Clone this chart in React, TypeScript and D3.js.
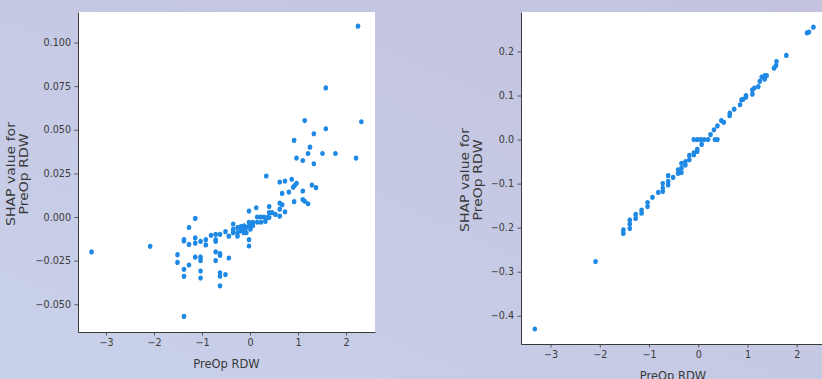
import React, { useEffect, useRef } from 'react';
import * as d3 from 'd3';

// Left panel: SHAP dependence (tree model)
const leftX = [
  -3.30, -2.08, -1.51, -1.51, -1.375, -1.375, -1.375, -1.375, -1.375, -1.27, -1.27, -1.27,
  -1.14, -1.14, -1.14, -1.14, -1.03, -1.03, -1.03, -1.03, -1.03, -0.92, -0.92, -0.81,
  -0.715, -0.715, -0.715, -0.715, -0.715, -0.625, -0.625, -0.625, -0.625, -0.625, -0.625,
  -0.51, -0.51, -0.44, -0.44, -0.35, -0.35, -0.35, -0.26, -0.26, -0.26, -0.19, -0.19,
  -0.125, -0.125, -0.125, -0.075, -0.075, -0.02, -0.02, -0.02, -0.02, -0.02, 0.01, 0.01,
  0.06, 0.06, 0.13, 0.15, 0.15, 0.22, 0.23, 0.29, 0.32, 0.34, 0.36, 0.40, 0.40, 0.40,
  0.46, 0.53, 0.62, 0.62, 0.62, 0.62, 0.67, 0.67, 0.73, 0.73, 0.81, 0.87, 0.90, 0.93,
  0.92, 0.92, 0.97, 0.97, 1.10, 1.10, 1.10, 1.14, 1.14, 1.21, 1.21, 1.25, 1.29, 1.33,
  1.33, 1.375, 1.51, 1.58, 1.58, 1.78, 2.21, 2.25, 2.32,
];
const leftY = [
  -0.020, -0.0168, -0.0216, -0.026, -0.0137, -0.0130, -0.030, -0.034, -0.057, -0.006, -0.0157, -0.0275,
  -0.0008, -0.012, -0.015, -0.023, -0.014, -0.023, -0.025, -0.031, -0.035, -0.013, -0.016, -0.0105,
  -0.010, -0.013, -0.014, -0.020, -0.025, -0.010, -0.021, -0.022, -0.032, -0.034, -0.0395,
  -0.0084, -0.033, -0.011, -0.0235, -0.004, -0.007, -0.009, -0.006, -0.009, -0.011, -0.0055, -0.008,
  -0.005, -0.0075, -0.009, -0.006, -0.009, 0.0034, -0.003, -0.005, -0.013, -0.0166, -0.004, -0.007,
  -0.003, -0.005, 0.0053, 0.0, -0.003, 0.0, -0.003, 0.0, -0.0025, 0.0235, -0.0003, 0.006, 0.0025, -0.0003,
  0.0025, 0.0015, 0.020, 0.008, 0.0045, 0.0005, 0.0135, 0.007, 0.0206, 0.003, 0.0143, 0.0216, 0.017, 0.018,
  0.0439, 0.0088, 0.0193, 0.0338, 0.0149, 0.0324, 0.010, 0.0553, 0.009, 0.0364, 0.0076, 0.040, 0.0183, 0.0477,
  0.0305, 0.0168, 0.0364, 0.074, 0.0506, 0.0364, 0.0338, 0.1094, 0.0546,
];

// Right panel: SHAP dependence (linear model)
const rightX = [
  -3.32, -2.085, -1.52, -1.52, -1.39, -1.39, -1.39, -1.27, -1.27, -1.15, -1.15, -1.03, -1.03,
  -0.93, -0.81, -0.72, -0.72, -0.72, -0.61, -0.61, -0.61, -0.51, -0.41, -0.41, -0.34, -0.34, -0.34,
  -0.26, -0.26, -0.18, -0.18, -0.09, -0.09, -0.02, -0.02, 0.07, -0.09, -0.02, 0.05, 0.12, 0.20,
  0.25, 0.32, 0.34, 0.39, 0.39, 0.47, 0.52, 0.64, 0.64, 0.73, 0.85, 0.88, 0.91, 0.97, 0.97,
  1.10, 1.10, 1.14, 1.22, 1.25, 1.29, 1.35, 1.35, 1.39, 1.54, 1.58, 1.59, 1.79, 2.21, 2.25, 2.34,
];
const rightY = [
  -0.430, -0.277, -0.205, -0.213, -0.183, -0.192, -0.202, -0.170, -0.179, -0.160, -0.167, -0.143, -0.152,
  -0.131, -0.120, -0.100, -0.110, -0.118, -0.082, -0.095, -0.103, -0.086, -0.069, -0.077, -0.054, -0.065, -0.075,
  -0.050, -0.058, -0.036, -0.046, -0.030, -0.035, -0.022, -0.027, -0.011, 0.0, 0.0, 0.0, 0.0, 0.0,
  0.011, 0.022, 0.0, 0.0, 0.031, 0.043, 0.039, 0.054, 0.060, 0.069, 0.079, 0.090, 0.091, 0.096, 0.100,
  0.103, 0.113, 0.117, 0.120, 0.132, 0.142, 0.145, 0.137, 0.145, 0.162, 0.168, 0.177, 0.191, 0.242, 0.244, 0.255,
];

const leftXTicks = [-3, -2, -1, 0, 1, 2];
const leftYTicks = [-0.05, -0.025, 0, 0.025, 0.05, 0.075, 0.1];
const rightXTicks = [-3, -2, -1, 0, 1, 2];
const rightYTicks = [-0.4, -0.3, -0.2, -0.1, 0, 0.1, 0.2];

const DOT = '#1E88E5';
const INK = '#3a3a3a';
const FONT = 'DejaVu Sans, sans-serif';
// the source image is stretched vertically a bit
const STRETCH = 1.22;

interface PanelSpec {
  xs: number[];
  ys: number[];
  box: { left: number; top: number; right: number; bottom: number };
  xDomain: [number, number];
  yDomain: [number, number];
  xTicks: number[];
  yTicks: number[];
  yFmt: (v: number) => string;
  yLabelX: number;
  xLabelY: number;
}

const fmtMinus = (s: string) => s.replace('-', '\u2212');

const panels: PanelSpec[] = [
  {
    xs: leftX,
    ys: leftY,
    box: { left: 78, top: 12, right: 375, bottom: 332 },
    xDomain: [-3.583, 2.604],
    yDomain: [-0.0659, 0.1175],
    xTicks: leftXTicks,
    yTicks: leftYTicks,
    yFmt: (v) => fmtMinus(v.toFixed(3)),
    yLabelX: 17,
    xLabelY: 364,
  },
  {
    xs: rightX,
    ys: rightY,
    box: { left: 521, top: 12, right: 825, bottom: 344 },
    xDomain: [-3.6, 2.575],
    yDomain: [-0.464, 0.2895],
    xTicks: rightXTicks,
    yTicks: rightYTicks,
    yFmt: (v) => fmtMinus(v.toFixed(1)),
    yLabelX: 471,
    xLabelY: 376,
  },
];

export default function App() {
  const svgRef = useRef<SVGSVGElement>(null);

  useEffect(() => {
    if (!svgRef.current) return;
    const svg = d3.select(svgRef.current);
    svg.selectAll('*').remove();

    // background gradient
    const defs = svg.append('defs');
    const grad = defs
      .append('linearGradient')
      .attr('id', 'bg')
      .attr('x1', '0%')
      .attr('y1', '100%')
      .attr('x2', '100%')
      .attr('y2', '0%');
    grad.append('stop').attr('offset', '0%').attr('stop-color', '#c9d1ea');
    grad.append('stop').attr('offset', '50%').attr('stop-color', '#c6c9e4');
    grad.append('stop').attr('offset', '100%').attr('stop-color', '#c3c3df');

    svg.append('rect').attr('width', 822).attr('height', 379).attr('fill', 'url(#bg)');

    panels.forEach((p) => {
      const { box } = p;
      const x = d3.scaleLinear().domain(p.xDomain).range([box.left, box.right]);
      const y = d3.scaleLinear().domain(p.yDomain).range([box.bottom, box.top]);

      svg
        .append('rect')
        .attr('x', box.left)
        .attr('y', box.top)
        .attr('width', box.right - box.left)
        .attr('height', box.bottom - box.top)
        .attr('fill', '#fff');

      // points
      svg
        .append('g')
        .selectAll('ellipse')
        .data(p.xs.map((v, i) => [v, p.ys[i]]))
        .enter()
        .append('ellipse')
        .attr('cx', (d) => x(d[0]))
        .attr('cy', (d) => y(d[1]))
        .attr('rx', 2.3)
        .attr('ry', 2.6)
        .attr('fill', DOT);

      // x axis
      const gx = svg
        .append('g')
        .attr('transform', `translate(0,${box.bottom})`)
        .call(
          d3
            .axisBottom(x)
            .tickValues(p.xTicks)
            .tickSizeInner(3.5)
            .tickSizeOuter(0)
            .tickPadding(3.5)
            .tickFormat((d) => fmtMinus(String(d)))
        );
      // y axis
      const gy = svg
        .append('g')
        .attr('transform', `translate(${box.left},0)`)
        .call(
          d3
            .axisLeft(y)
            .tickValues(p.yTicks)
            .tickSizeInner(3.5)
            .tickSizeOuter(0)
            .tickPadding(3.5)
            .tickFormat((d) => p.yFmt(Number(d)))
        );

      [gx, gy].forEach((g) => {
        g.select('.domain').attr('stroke', INK).attr('stroke-width', 1);
        g.selectAll('.tick line').attr('stroke', INK).attr('stroke-width', 0.8);
        g.selectAll('.tick text')
          .attr('fill', INK)
          .attr('font-family', FONT)
          .attr('font-size', '9.6px');
      });

      // x label
      svg
        .append('text')
        .attr(
          'transform',
          `translate(${(box.left + box.right) / 2},${p.xLabelY}) scale(1,1.1)`
        )
        .attr('dy', '0.35em')
        .attr('text-anchor', 'middle')
        .attr('font-family', FONT)
        .attr('font-size', '11.5px')
        .attr('fill', INK)
        .text('PreOp RDW');

      // y label (two lines), stretched along its length
      const cy = (box.top + box.bottom) / 2 + 2;
      const yl = svg
        .append('text')
        .attr(
          'transform',
          `translate(${p.yLabelX},${cy}) rotate(-90) scale(${STRETCH},1)`
        )
        .attr('text-anchor', 'middle')
        .attr('font-family', FONT)
        .attr('font-size', '11.5px')
        .attr('fill', INK);
      yl.append('tspan').attr('x', 0).attr('y', -2).text('SHAP value for');
      yl.append('tspan').attr('x', 0).attr('y', 11).text('PreOp RDW');
    });
  }, []);

  return (
    <svg
      ref={svgRef}
      width={822}
      height={379}
      style={{ position: 'absolute', left: 0, top: 0, display: 'block' }}
    />
  );
}
